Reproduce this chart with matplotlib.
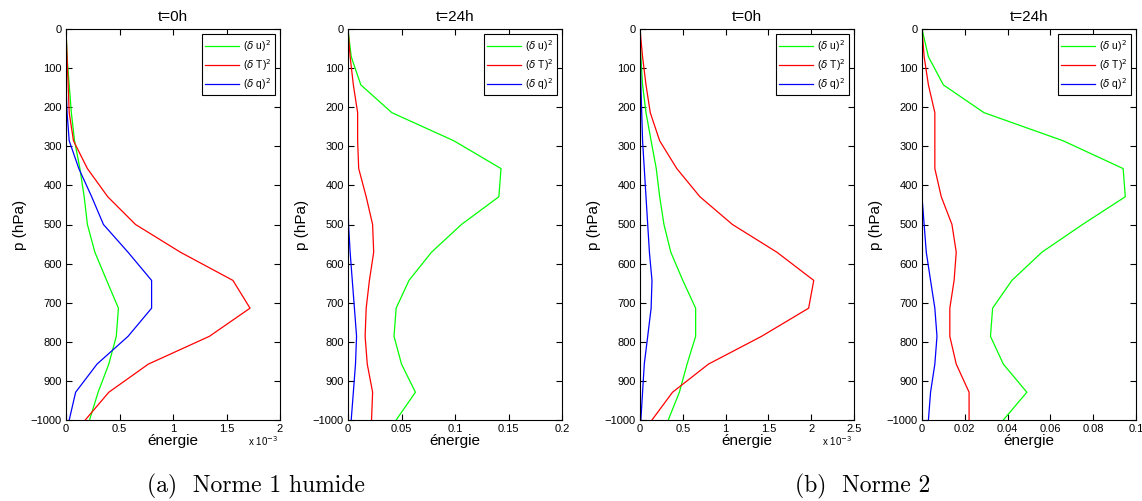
import numpy as np
import matplotlib
matplotlib.use('Agg')
import matplotlib.pyplot as plt

# pressure levels (hPa)
levels = [0, 71, 143, 214, 286, 357, 429, 500, 571, 643, 714, 786, 857, 929, 1000]

# Norme 1 humide, t=0h (x 1e-3)
n1_t0_u = [0, 0.01, 0.03, 0.05, 0.08, 0.13, 0.17, 0.20, 0.27, 0.38, 0.49, 0.47, 0.40, 0.30, 0.22]
n1_t0_T = [0, 0.01, 0.02, 0.03, 0.07, 0.20, 0.39, 0.65, 1.07, 1.56, 1.72, 1.34, 0.77, 0.40, 0.18]
n1_t0_q = [0, 0.0, 0.0, 0.01, 0.03, 0.12, 0.24, 0.35, 0.58, 0.80, 0.80, 0.58, 0.29, 0.09, 0.03]

# Norme 1 humide, t=24h
n1_t24_u = [0, 0.003, 0.012, 0.041, 0.099, 0.143, 0.141, 0.106, 0.078, 0.057, 0.045, 0.043, 0.050, 0.063, 0.045]
n1_t24_T = [0, 0.002, 0.005, 0.009, 0.009, 0.010, 0.017, 0.023, 0.024, 0.020, 0.017, 0.016, 0.018, 0.023, 0.022]
n1_t24_q = [0, 0.0, 0.0, 0.0, 0.0, 0.0, 0.0, 0.0005, 0.002, 0.004, 0.006, 0.008, 0.007, 0.005, 0.003]

# Norme 2, t=0h (x 1e-3)
n2_t0_u = [0, 0.01, 0.03, 0.07, 0.13, 0.19, 0.23, 0.28, 0.36, 0.50, 0.65, 0.65, 0.55, 0.46, 0.33]
n2_t0_T = [0, 0.03, 0.07, 0.12, 0.23, 0.43, 0.70, 1.08, 1.60, 2.03, 1.97, 1.42, 0.80, 0.38, 0.14]
n2_t0_q = [0, 0.005, 0.01, 0.02, 0.03, 0.05, 0.07, 0.09, 0.11, 0.14, 0.13, 0.09, 0.05, 0.03, 0.01]

# Norme 2, t=24h
n2_t24_u = [0, 0.003, 0.010, 0.029, 0.066, 0.094, 0.095, 0.075, 0.056, 0.042, 0.033, 0.032, 0.038, 0.049, 0.038]
n2_t24_T = [0, 0.001, 0.003, 0.006, 0.006, 0.006, 0.009, 0.014, 0.016, 0.015, 0.013, 0.013, 0.016, 0.022, 0.022]
n2_t24_q = [0, 0.0, 0.0, 0.0, 0.0, 0.0, 0.0, 0.001, 0.002, 0.004, 0.006, 0.007, 0.006, 0.004, 0.003]

yticks = [0, 100, 200, 300, 400, 500, 600, 700, 800, 900, 1000]
ytick_labels = ['0', '100', '200', '300', '400', '500', '600', '700', '800', '900', '\u22121000']

panels = [
    ('t=0h', n1_t0_u, n1_t0_T, n1_t0_q, [0, 0.5, 1, 1.5, 2], ['0', '0.5', '1', '1.5', '2'], True),
    ('t=24h', n1_t24_u, n1_t24_T, n1_t24_q, [0, 0.05, 0.1, 0.15, 0.2], ['0', '0.05', '0.1', '0.15', '0.2'], False),
    ('t=0h', n2_t0_u, n2_t0_T, n2_t0_q, [0, 0.5, 1, 1.5, 2, 2.5], ['0', '0.5', '1', '1.5', '2', '2.5'], True),
    ('t=24h', n2_t24_u, n2_t24_T, n2_t24_q, [0, 0.02, 0.04, 0.06, 0.08, 0.1], ['0', '0.02', '0.04', '0.06', '0.08', '0.1'], False),
]

plt.rcParams['font.family'] = ['Liberation Sans', 'DejaVu Sans']

W, H = 1142, 501
fig = plt.figure(figsize=(W / 100, H / 100), dpi=100)

lefts = [66, 348, 640, 922]
ax_w = 214
top, bottom = 29, 420

for left, (title, du, dT, dq, xt, xtl, scaled) in zip(lefts, panels):
    ax = fig.add_axes([left / W, 1 - bottom / H, ax_w / W, (bottom - top) / H])
    ax.plot(du, levels, color='#00ff00', lw=0.9, label=r'($\delta$ u)$^2$')
    ax.plot(dT, levels, color='#ff0000', lw=0.9, label=r'($\delta$ T)$^2$')
    ax.plot(dq, levels, color='#0000ff', lw=0.9, label=r'($\delta$ q)$^2$')
    ax.set_xlim(xt[0], xt[-1])
    ax.set_ylim(1000, 0)
    ax.set_xticks(xt)
    ax.set_xticklabels(xtl)
    ax.set_yticks(yticks)
    ax.set_yticklabels(ytick_labels)
    ax.tick_params(direction='in', top=True, right=True, length=4, width=0.8,
                   labelsize=8, pad=3)
    for s in ax.spines.values():
        s.set_linewidth(0.8)
    ax.set_title(title, fontsize=11, pad=6)
    ax.set_xlabel('énergie', fontsize=11, labelpad=0)
    ax.set_ylabel('p (hPa)', fontsize=11, labelpad=3)
    leg = ax.legend(loc='upper right', fontsize=7.5, frameon=True, fancybox=False,
                    framealpha=1, edgecolor='black', handlelength=3.2,
                    borderaxespad=0.5, labelspacing=0.3, handletextpad=0.4,
                    borderpad=0.35)
    leg.get_frame().set_linewidth(0.8)
    if scaled:
        ax.text(0.92, -0.037, r'x 10$^{-3}$', transform=ax.transAxes,
                fontsize=7, ha='center', va='top')

fig.text(256 / W, 1 - 486 / H, '(a)  Norme 1 humide', family='cmr10',
         fontsize=17, ha='center', va='center')
fig.text(863 / W, 1 - 486 / H, '(b)  Norme 2', family='cmr10',
         fontsize=17, ha='center', va='center')

fig.savefig('out.png', dpi=100)
